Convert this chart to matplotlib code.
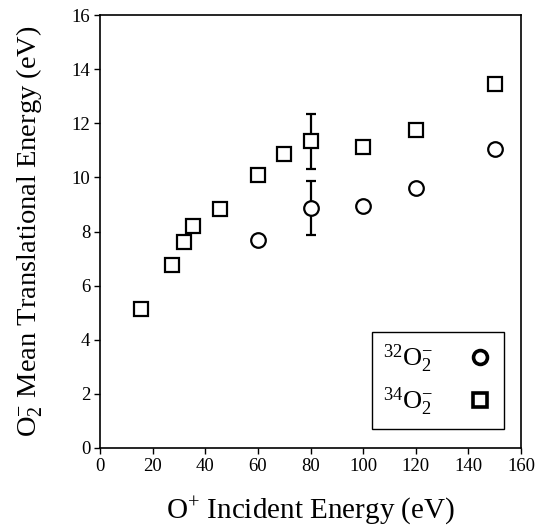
import matplotlib
matplotlib.use("Agg")
import matplotlib.pyplot as plt

plt.rcParams['font.family'] = ['Liberation Serif', 'DejaVu Serif']
plt.rcParams['mathtext.fontset'] = 'custom'
plt.rcParams['mathtext.rm'] = 'Liberation Serif'
plt.rcParams['mathtext.it'] = 'Liberation Serif:italic'

# data
x32 = [60, 80, 100, 120, 150]
y32 = [7.7, 8.87, 8.93, 9.6, 11.05]
err32 = [0, 1.0, 0, 0, 0]

x34 = [15.5, 27.5, 32, 35.5, 45.5, 60, 70, 80, 100, 120, 150]
y34 = [5.12, 6.78, 7.62, 8.22, 8.82, 10.08, 10.88, 11.33, 11.12, 11.75, 13.45]
err34 = [0, 0, 0, 0, 0, 0, 0, 1.03, 0, 0, 0]

xticks = [0, 20, 40, 60, 80, 100, 120, 140, 160]
yticks = [0, 2, 4, 6, 8, 10, 12, 14, 16]

fig = plt.figure(figsize=(5.36, 5.30), dpi=100)
ax = fig.add_axes([100/536, 1 - 448/530, 421/536, 433/530])

def draw(x, y, err, marker, label):
    xe = [a for a, e in zip(x, err) if e > 0]
    ye = [b for b, e in zip(y, err) if e > 0]
    ee = [e for e in err if e > 0]
    ax.errorbar(xe, ye, yerr=ee, fmt='none', ecolor='black', elinewidth=1.6,
                capsize=3.5, capthick=1.6, zorder=2)
    ax.plot(x, y, linestyle='none', marker=marker, markersize=10.5,
            markerfacecolor='white', markeredgecolor='black',
            markeredgewidth=1.6, label=label, zorder=3)

draw(x32, y32, err32, 'o', r'$^{32}$O$_2^{-}$')
draw(x34, y34, err34, 's', r'$^{34}$O$_2^{-}$')

ax.set_xlim(0, 160)
ax.set_ylim(0, 16)
ax.set_xticks(xticks)
ax.set_yticks(yticks)
ax.tick_params(direction='out', length=4, width=1, labelsize=13.5, colors='black', pad=3)
for s in ax.spines.values():
    s.set_linewidth(1.2)

ax.set_xlabel(r'O$^{+}$ Incident Energy (eV)', fontsize=21, labelpad=14)
ax.set_ylabel(r'O$_2^{-}$ Mean Translational Energy (eV)', fontsize=20.5, labelpad=19)

leg = ax.legend(loc='lower right', bbox_to_anchor=(0.96, 0.045), markerfirst=False,
                fontsize=19, frameon=True, fancybox=False, edgecolor='black',
                framealpha=1, borderpad=0.4, labelspacing=0.4, handletextpad=1.3,
                handlelength=1.0, borderaxespad=0)
leg.get_frame().set_linewidth(1.0)
for h in leg.legend_handles:
    h.set_markeredgewidth(2.6)
    h.set_markersize(10)

fig.savefig('out.png', dpi=100)
